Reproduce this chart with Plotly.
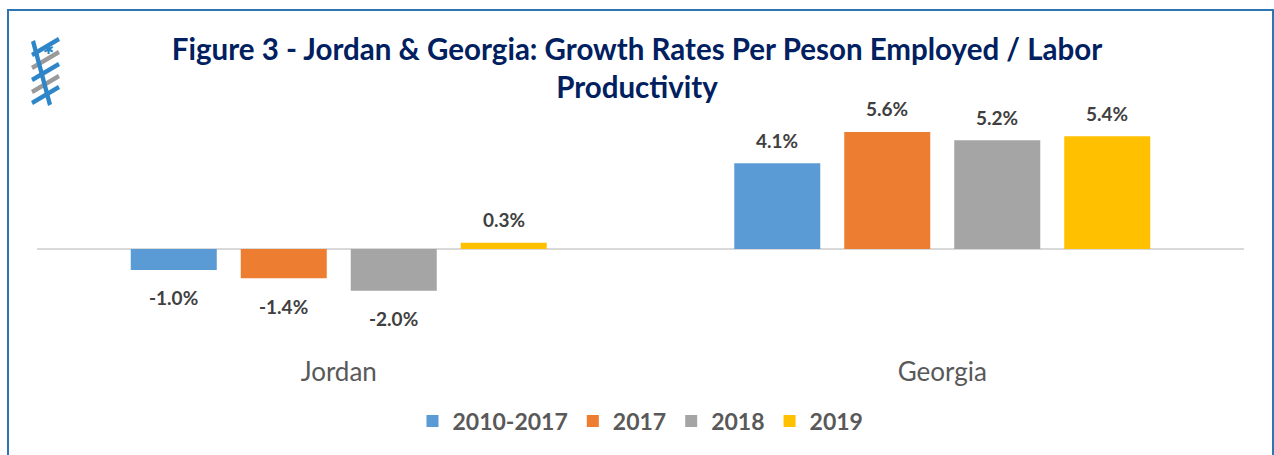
import plotly.graph_objects as go

categories = ["Jordan", "Georgia"]
series_names = ["2010-2017", "2017", "2018", "2019"]
values_2010_2017 = [-1.0, 4.1]
values_2017 = [-1.4, 5.6]
values_2018 = [-2.0, 5.2]
values_2019 = [0.3, 5.4]
colors = ["#5B9BD5", "#ED7D31", "#A5A5A5", "#FFC000"]

W, H = 1274, 455
ML, MR, MT, MB = 37, 30, 100, 105
pw, ph = W - ML - MR, H - MT - MB
BARGAP, BARGROUPGAP = 0.271, 0.218
FONT = "Lato, Open Sans, sans-serif"

def px_x(p):
    return (p - ML) / pw

def px_y(p):
    return (H - MB - p) / ph

all_series = [values_2010_2017, values_2017, values_2018, values_2019]
fig = go.Figure()
for name, vals, c in zip(series_names, all_series, colors):
    fig.add_trace(go.Bar(
        x=categories, y=vals, name=name, marker=dict(color=c, line=dict(width=0)),
    ))

# data labels as annotations positioned by the axes
cat_px = pw / len(categories)
slot_px = cat_px * (1 - BARGAP) / len(all_series)
annotations = []
for i, vals in enumerate(all_series):
    for cat, v in zip(categories, vals):
        annotations.append(dict(
            x=cat, y=v, xref="x", yref="y", text=f"{v:.1f}%", showarrow=False,
            xshift=(i - (len(all_series) - 1) / 2) * slot_px,
            yshift=23 if v >= 0 else -28, yanchor="middle",
            font=dict(family=FONT, size=19, color="#404040", weight="bold"),
        ))

zero_px = 249
ppu = 20.9
ymax = (zero_px - MT) / ppu
ymin = -((H - MB) - zero_px) / ppu

shapes = [
    dict(type="rect", xref="paper", yref="paper", x0=px_x(8), x1=px_x(1273), y0=px_y(470), y1=px_y(10),
         line=dict(color="#2E75B6", width=2), fillcolor="rgba(0,0,0,0)", layer="below"),
]
# simple logo approximation
logo_blue = "#2E86C8"
logo_gray = "#9A9A9A"
for y0, col in [(45, logo_blue), (58, logo_gray), (70, logo_blue), (82, logo_gray), (93, logo_blue)]:
    shapes.append(dict(type="path", xref="paper", yref="paper",
                       path=f"M {px_x(31)},{px_y(y0+8)} L {px_x(58)},{px_y(y0-8)} L {px_x(60)},{px_y(y0-4)} L {px_x(33)},{px_y(y0+12)} Z",
                       fillcolor=col, line=dict(width=0)))
shapes.append(dict(type="path", xref="paper", yref="paper",
                   path=f"M {px_x(31)},{px_y(42)} L {px_x(35)},{px_y(40)} L {px_x(52)},{px_y(104)} L {px_x(48)},{px_y(106)} Z",
                   fillcolor=logo_blue, line=dict(width=0)))
annotations.append(dict(text="✱", xref="paper", yref="paper", x=px_x(41), y=px_y(38), showarrow=False,
                        font=dict(size=13, color=logo_blue)))

fig.update_layout(
    width=W, height=H,
    margin=dict(l=ML, r=MR, t=MT, b=MB),
    paper_bgcolor="white", plot_bgcolor="white",
    barmode="group", bargap=BARGAP, bargroupgap=BARGROUPGAP,
    title=dict(text="Figure 3 - Jordan & Georgia: Growth Rates Per Peson Employed / Labor<br>Productivity",
               x=0.5, xanchor="center", y=1 - 60 / H, yanchor="middle",
               font=dict(family=FONT, size=29.5, color="#002060", weight="bold")),
    xaxis=dict(showline=False, showgrid=False, ticks="", ticklabelstandoff=4,
               tickfont=dict(family=FONT, size=26, color="#595959")),
    yaxis=dict(range=[ymin, ymax], showgrid=False, showticklabels=False, zeroline=True,
               zerolinecolor="#D9D9D9", zerolinewidth=2),
    legend=dict(orientation="h", x=0.5, xanchor="center", y=px_y(421), yanchor="middle",
                font=dict(family=FONT, size=23, color="#595959", weight="bold"),
                itemwidth=30, traceorder="normal"),
    shapes=shapes,
    annotations=annotations,
)
fig.write_html("out.html")
